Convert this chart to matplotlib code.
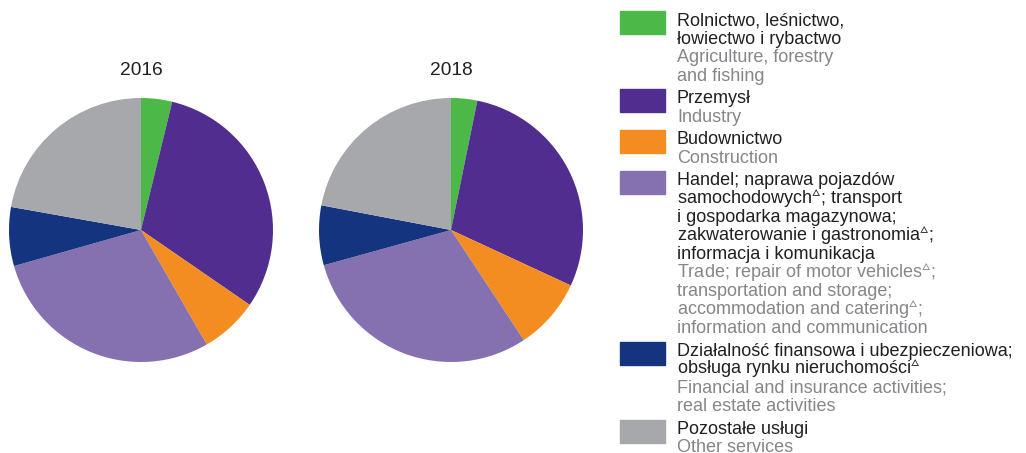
import matplotlib.pyplot as plt

plt.rcParams["font.family"] = ["Liberation Sans", "DejaVu Sans"]
plt.rcParams["mathtext.fontset"] = "custom"
plt.rcParams["mathtext.rm"] = "Liberation Sans"
plt.rcParams["mathtext.it"] = "Liberation Sans"
plt.rcParams["mathtext.bf"] = "Liberation Sans"

years = ["2016", "2018"]
share_2016 = [3.8, 30.8, 7.1, 28.9, 7.2, 22.2]
share_2018 = [3.2, 28.7, 8.8, 30.0, 7.3, 22.0]
colors = ["#4cb848", "#512d8f", "#f48d21", "#8570b0", "#14347f", "#a7a8ab"]

D = r"$^{\vartriangle}$"
labels_pl = [
    ["Rolnictwo, leśnictwo,", "łowiectwo i rybactwo"],
    ["Przemysł"],
    ["Budownictwo"],
    ["Handel; naprawa pojazdów", "samochodowych" + D + "; transport",
     "i gospodarka magazynowa;", "zakwaterowanie i gastronomia" + D + ";",
     "informacja i komunikacja"],
    ["Działalność finansowa i ubezpieczeniowa;",
     "obsługa rynku nieruchomości" + D],
    ["Pozostałe usługi"],
]
labels_en = [
    ["Agriculture, forestry", "and fishing"],
    ["Industry"],
    ["Construction"],
    ["Trade; repair of motor vehicles" + D + ";", "transportation and storage;",
     "accommodation and catering" + D + ";", "information and communication"],
    ["Financial and insurance activities;", "real estate activities"],
    ["Other services"],
]

W, H = 1026, 453
fig = plt.figure(figsize=(W / 100, H / 100), dpi=100)

# pies
R = 132
for cx, year, vals in zip([141, 451], years, [share_2016, share_2018]):
    ax = fig.add_axes([(cx - R) / W, (H - 230 - R) / H, 2 * R / W, 2 * R / H])
    ax.pie(vals, colors=colors, startangle=90, counterclock=False,
           wedgeprops=dict(linewidth=0))
    ax.set_xlim(-1, 1)
    ax.set_ylim(-1, 1)
    fig.text(cx / W, 1 - 75 / H, year, ha="center", va="baseline",
             fontsize=13.8, color="#231f20")

# legend
step = 18.5
y = 11
for col, pl, en in zip(colors, labels_pl, labels_en):
    fig.patches.append(plt.Rectangle((620 / W, 1 - (y + 23) / H), 45 / W, 23 / H,
                                     transform=fig.transFigure, color=col))
    for i, line in enumerate(pl + en):
        c = "#231f20" if i < len(pl) else "#85868a"
        fig.text(677 / W, 1 - (y + 14.3 + i * step) / H, line, ha="left",
                 va="baseline", fontsize=13, color=c)
    y += step * (len(pl) + len(en)) + 4

fig.savefig("out.png", dpi=100)
